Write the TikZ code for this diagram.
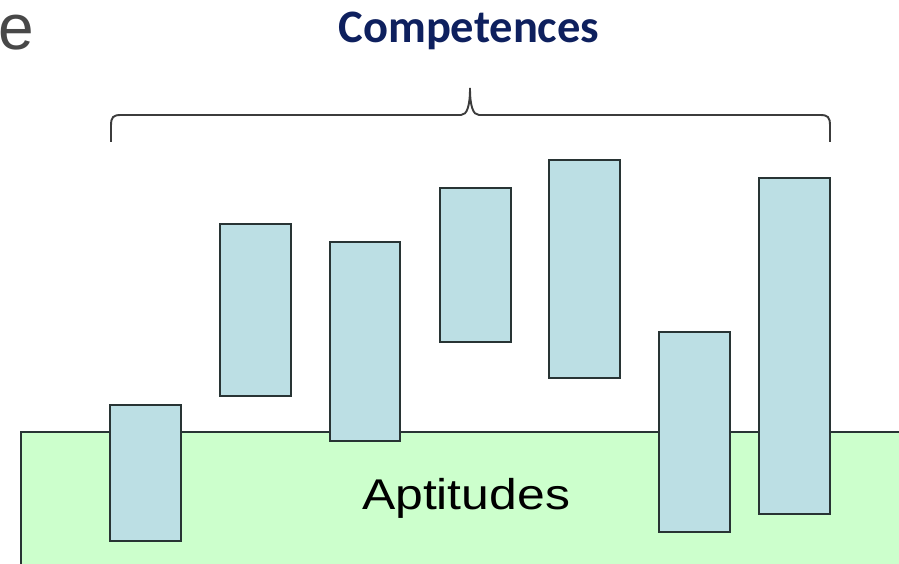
\documentclass[tikz,border=0pt]{standalone}
\usepackage{fontspec}
\setmainfont{Liberation Sans}
\newfontfamily\calfont{Carlito}
\definecolor{barfill}{RGB}{188,223,228}
\definecolor{aptfill}{RGB}{204,255,204}
\definecolor{edgecol}{RGB}{40,52,52}
\definecolor{navy}{RGB}{14,32,94}
\definecolor{bracecol}{RGB}{60,60,60}
\definecolor{egray}{RGB}{72,72,72}
\tikzset{
  bar/.style={draw=edgecol, line width=1.4pt, fill=barfill, anchor=north west, inner sep=0pt, outer sep=0pt, minimum width=71pt},
  aptbox/.style={draw=edgecol, line width=1.4pt, fill=aptfill},
  bracepath/.style={draw=bracecol, line width=1.9pt}
}
\begin{document}
\begin{tikzpicture}[x=1pt,y=-1pt]
\useasboundingbox (0,0) rectangle (899,564);
\clip (0,0) rectangle (899,564);
\fill[white] (0,0) rectangle (899,564);
% Aptitudes base
\path[aptbox] (21,432) rectangle (910,575);
\node[anchor=base, inner sep=0pt] (apt) at (466,509) {\scalebox{1.16}[1]{\fontsize{43}{50}\selectfont Aptitudes}};
% bars
\node[bar, minimum height=136pt] (b1) at (110,405) {};
\node[bar, minimum height=172pt] (b2) at (220,224) {};
\node[bar, minimum height=199pt, minimum width=70pt] (b3) at (330,242) {};
\node[bar, minimum height=154pt] (b4) at (440,188) {};
\node[bar, minimum height=218pt] (b5) at (549,160) {};
\node[bar, minimum height=200pt] (b6) at (659,332) {};
\node[bar, minimum height=336pt] (b7) at (759,178) {};
% brace
\coordinate (bl) at (111,142);
\coordinate (br) at (830,142);
\coordinate (tip) at (470,88);
\draw[bracepath] (bl) -- (111,126) .. controls (111,117) and (113,115) .. (121,115)
  -- (461,115) .. controls (467,115) and (470,106) .. (tip)
  .. controls (470,106) and (473,115) .. (479,115)
  -- (820,115) .. controls (828,115) and (830,117) .. (830,126) -- (br);
% title
\node[anchor=base, inner sep=0pt, text=navy] (title) at (469,43) {\fontsize{46.5}{52}\selectfont\calfont\bfseries Competences};
% stray letter
\node[anchor=base west, inner sep=0pt, text=egray] (e) at (-1.5,50) {\fontsize{64}{70}\selectfont e};
\end{tikzpicture}
\end{document}
